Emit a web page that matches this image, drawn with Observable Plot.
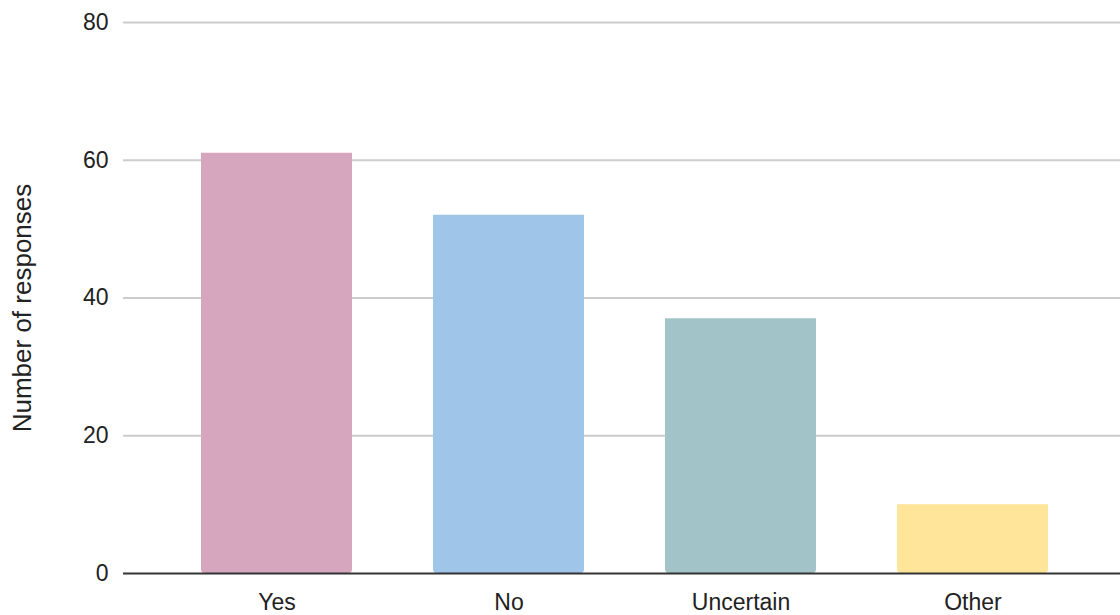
<!DOCTYPE html>
<html>
<head>
<meta charset="utf-8">
<script src="https://cdn.jsdelivr.net/npm/d3@7"></script>
<script src="https://cdn.jsdelivr.net/npm/@observablehq/plot@0.6"></script>
<style>
  html, body { margin: 0; padding: 0; background: #fff; }
  #chart svg { display: block; }
</style>
</head>
<body>
<div id="chart"></div>
<script>
const categories = ["Yes", "No", "Uncertain", "Other"];
const responses = [61, 52, 37, 10];
const barColors = ["#d5a6bd", "#9fc5e8", "#a2c4c9", "#ffe599"];
const yTicks = [0, 20, 40, 60, 80];
const yLabel = "Number of responses";

const data = categories.map((c, i) => ({category: c, value: responses[i]}));

const chart = Plot.plot({
  width: 1120,
  height: 615,
  marginLeft: 123,
  marginRight: 0,
  marginTop: 22,
  marginBottom: 42,
  style: {fontFamily: "'Liberation Sans', Arial, sans-serif", fontSize: "23px", color: "#222", background: "#fff"},
  x: {domain: categories, paddingInner: 0.349, paddingOuter: 0.323, align: 0.52, label: null, tickSize: 0, tickPadding: 20},
  y: {domain: [0, 80], ticks: yTicks, label: null, tickSize: 0, tickPadding: 15},
  color: {domain: categories, range: barColors},
  marks: [
    Plot.ruleY(yTicks.filter(t => t > 0), {stroke: "#cccccc", strokeWidth: 2}),
    Plot.barY(data, {x: "category", y: "value", fill: "category", ry2: 4, rx: 4}),
    Plot.ruleY([0], {stroke: "#333333", strokeWidth: 2}),
    Plot.text([yLabel], {frameAnchor: "left", textAnchor: "middle", dx: -101, dy: 10, rotate: -90, fontSize: 26, fill: "#222"})
  ]
});
document.getElementById("chart").appendChild(chart);
</script>
</body>
</html>
